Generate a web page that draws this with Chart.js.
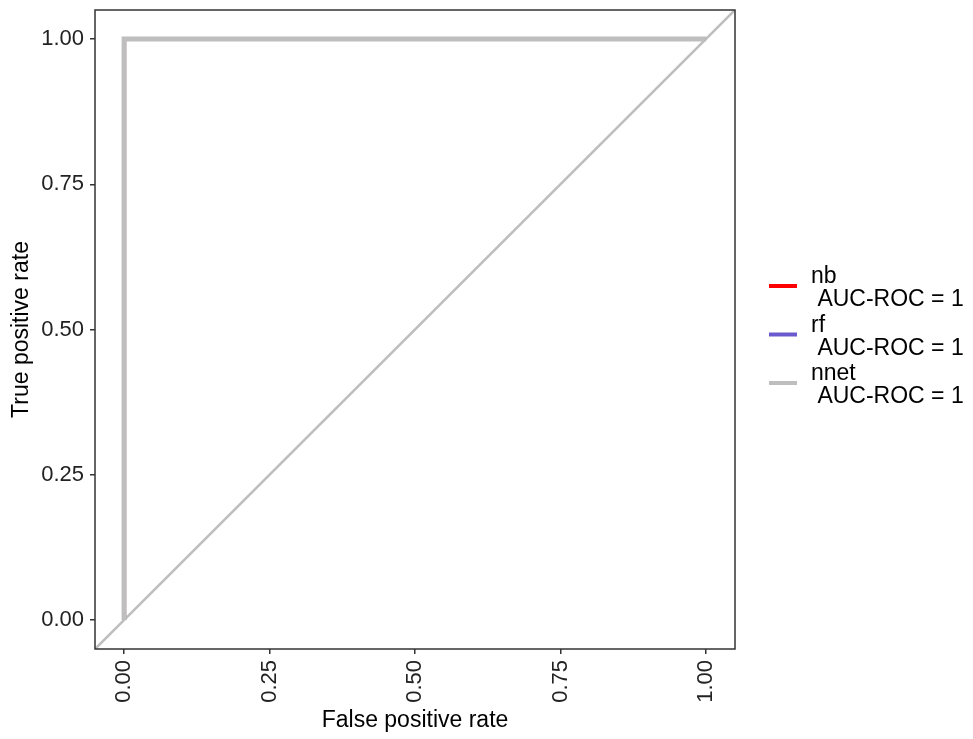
<!DOCTYPE html>
<html lang="en">
<head>
  <meta charset="UTF-8" />
  <title>ROC curves</title>
  <script src="https://cdn.jsdelivr.net/npm/chart.js"></script>
  <style>
    * { box-sizing: border-box; margin: 0; padding: 0; }
    body { background: #fff; }
    #wrap { width: 973px; height: 739px; }
  </style>
</head>
<body>
  <div id="wrap"><canvas id="roc" width="973" height="739"></canvas></div>

  <script>
    // ROC points per model (false positive rate / true positive rate)
    const models = ['nb', 'rf', 'nnet'];
    const aucRoc = [1, 1, 1];
    const nbFpr = [0, 0, 1];
    const nbTpr = [0, 1, 1];
    const rfFpr = [0, 0, 1];
    const rfTpr = [0, 1, 1];
    const nnetFpr = [0, 0, 1];
    const nnetTpr = [0, 1, 1];
    // reference diagonal, spans the whole panel
    const diagX = [-0.05, 1.05];
    const diagY = [-0.05, 1.05];
    const tickValues = [0, 0.25, 0.5, 0.75, 1];

    const colors = ['#ff0000', '#6a5acd', '#bebebe'];
    const fontFamily = "'Liberation Sans', Arial, sans-serif";
    const ink = '#333333';

    const toPoints = (xs, ys) => xs.map((x, i) => ({ x: x, y: ys[i] }));
    const curves = [[nbFpr, nbTpr], [rfFpr, rfTpr], [nnetFpr, nnetTpr]];

    const datasets = [{
      label: 'diag',
      data: toPoints(diagX, diagY),
      borderColor: '#bebebe',
      borderWidth: 2.6,
      pointRadius: 0,
      showLine: true,
      order: 10
    }];
    // later models are painted on top (lower order = drawn last)
    models.forEach((m, i) => {
      const last = i === models.length - 1;
      datasets.push({
        label: m,
        data: toPoints(curves[i][0], curves[i][1]),
        borderColor: colors[i],
        borderWidth: last ? 5 : 4,
        borderJoinStyle: 'miter',
        borderCapStyle: 'butt',
        pointRadius: 0,
        showLine: true,
        order: models.length - i
      });
    });

    const panelBox = {
      id: 'panelBox',
      afterDatasetsDraw(chart) {
        const { ctx, chartArea: a } = chart;
        ctx.save();
        ctx.strokeStyle = ink;
        ctx.lineWidth = 1.5;
        ctx.strokeRect(a.left, a.top, a.right - a.left, a.bottom - a.top);
        ctx.restore();
      }
    };

    const sideLegend = {
      id: 'sideLegend',
      afterDraw(chart) {
        const ctx = chart.ctx;
        ctx.save();
        ctx.font = '23px ' + fontFamily;
        ctx.textBaseline = 'middle';
        ctx.fillStyle = '#000';
        models.forEach((m, i) => {
          const y0 = 286 + i * 48.5;
          ctx.strokeStyle = colors[i];
          ctx.lineWidth = 4;
          ctx.beginPath();
          ctx.moveTo(769, y0);
          ctx.lineTo(797, y0);
          ctx.stroke();
          ctx.fillText(m, 811, y0 - 9);
          ctx.fillText(' AUC-ROC = ' + aucRoc[i], 811, y0 + 14);
        });
        ctx.restore();
      }
    };

    const axisCommon = {
      type: 'linear',
      min: -0.05,
      max: 1.05,
      afterBuildTicks: (scale) => { scale.ticks = tickValues.map(v => ({ value: v })); },
      border: { display: false },
      grid: {
        drawOnChartArea: false,
        drawTicks: true,
        tickLength: 5,
        color: ink,
        lineWidth: 1.5
      }
    };

    new Chart(document.getElementById('roc'), {
      type: 'scatter',
      data: { datasets: datasets },
      options: {
        responsive: false,
        animation: false,
        layout: { padding: { top: 10, right: 238, left: 0, bottom: 0 } },
        plugins: { legend: { display: false }, tooltip: { enabled: false } },
        scales: {
          x: Object.assign({}, axisCommon, {
            position: 'bottom',
            afterFit: (s) => { s.height = 90; s.paddingLeft = 0; s.paddingRight = 0; },
            ticks: {
              color: '#222',
              font: { family: fontFamily, size: 22 },
              minRotation: 90,
              maxRotation: 90,
              padding: 6,
              callback: (v) => Number(v).toFixed(2)
            },
            title: {
              display: true,
              text: 'False positive rate',
              color: '#000',
              font: { family: fontFamily, size: 23 },
              padding: { top: 0, bottom: 5 }
            }
          }),
          y: Object.assign({}, axisCommon, {
            position: 'left',
            afterFit: (s) => { s.width = 95; s.paddingTop = 0; s.paddingBottom = 0; },
            ticks: {
              color: '#222',
              font: { family: fontFamily, size: 22 },
              padding: 6,
              callback: (v) => Number(v).toFixed(2)
            },
            title: {
              display: true,
              text: 'True positive rate',
              color: '#000',
              font: { family: fontFamily, size: 23 },
              padding: { top: 8, bottom: 0 }
            }
          })
        }
      },
      plugins: [panelBox, sideLegend]
    });
  </script>
</body>
</html>
